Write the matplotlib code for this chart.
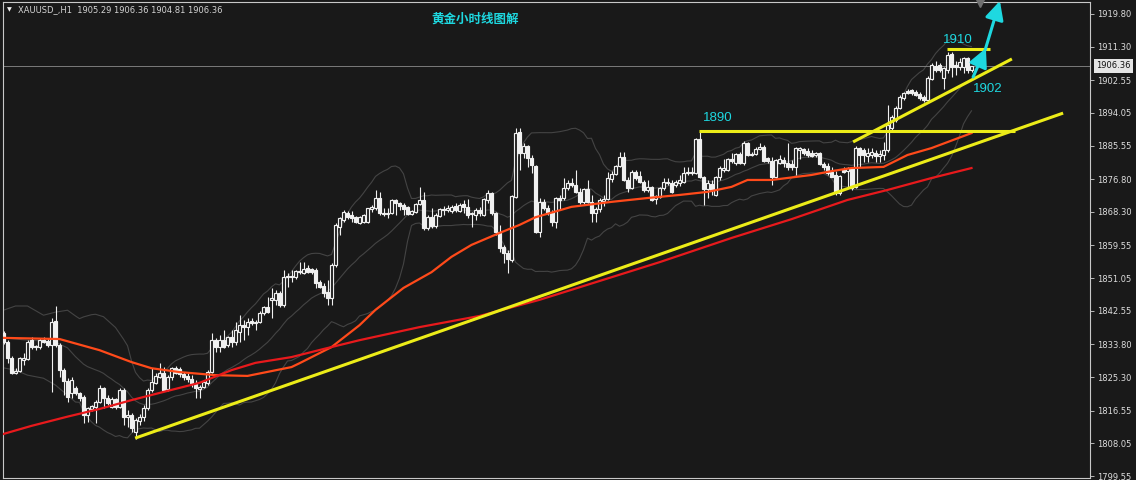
import numpy as np
import pandas as pd
import matplotlib
matplotlib.use("Agg")
import matplotlib.pyplot as plt
from matplotlib.transforms import blended_transform_factory

# ---- datos ----
HEADER = "XAUUSD_,H1  1905.29 1906.36 1904.81 1906.36"
TITLE = "黄金小时线图解"
LAST_PRICE = 1906.36
YTICKS = [1919.80, 1911.30, 1902.55, 1894.05, 1885.55, 1876.80, 1868.30, 1859.55,
          1851.05, 1842.55, 1833.80, 1825.30, 1816.55, 1808.05, 1799.55]

O = [1836.8, 1834.4, 1830.3, 1826.4, 1826.9, 1829.7, 1830.0, 1834.9, 1833.4, 1833.1,
     1834.9, 1834.7, 1833.7, 1839.9, 1833.7, 1827.1, 1824.3, 1821.1, 1822.5, 1821.1,
     1820.1, 1815.4, 1817.0, 1817.5, 1818.8, 1822.5, 1819.8, 1817.5, 1819.6, 1817.5,
     1821.9, 1814.9, 1815.4, 1811.0, 1813.9, 1814.9, 1817.2, 1821.9, 1823.7, 1825.3,
     1826.4, 1822.2, 1825.3, 1827.7, 1827.4, 1826.1, 1825.6, 1824.8, 1823.7, 1822.2,
     1822.7, 1823.7, 1826.6, 1834.9, 1833.1, 1834.9, 1833.7, 1835.7, 1834.4, 1837.0,
     1838.8, 1838.3, 1839.9, 1839.4, 1839.6, 1842.0, 1843.5, 1845.4, 1845.4, 1847.2,
     1844.1, 1851.3, 1851.6, 1851.3, 1852.6, 1852.4, 1853.7, 1853.4, 1853.2, 1850.0,
     1849.0, 1847.4, 1845.9, 1854.5, 1864.4, 1866.2, 1868.0, 1867.5, 1867.0, 1865.4,
     1865.7, 1865.7, 1869.0, 1869.3, 1871.9, 1868.0, 1867.7, 1868.0, 1871.4, 1870.6,
     1870.1, 1869.6, 1867.7, 1868.3, 1870.3, 1871.4, 1864.1, 1867.0, 1864.6, 1867.2,
     1869.0, 1868.8, 1868.5, 1869.8, 1868.5, 1870.3, 1869.6, 1867.7, 1867.5, 1868.8,
     1867.5, 1871.4, 1873.2, 1868.0, 1863.1, 1859.1, 1857.6, 1855.8, 1872.2, 1889.1,
     1883.6, 1885.4, 1882.3, 1880.2, 1863.1, 1870.9, 1869.3, 1868.0, 1865.7, 1871.9,
     1871.9, 1874.5, 1875.8, 1875.3, 1873.5, 1870.9, 1874.2, 1870.9, 1868.0, 1869.0,
     1871.1, 1871.6, 1876.9, 1878.1, 1880.2, 1882.6, 1876.6, 1874.5, 1878.7, 1877.6,
     1876.1, 1874.0, 1874.8, 1871.6, 1872.2, 1874.5, 1876.1, 1875.8, 1875.3, 1875.8,
     1876.1, 1878.4, 1878.7, 1878.4, 1887.3, 1877.4, 1874.2, 1875.5, 1872.7, 1877.4,
     1879.2, 1879.2, 1882.1, 1881.0, 1883.4, 1881.0, 1886.2, 1883.1, 1883.4, 1884.7,
     1885.2, 1882.3, 1881.5, 1877.4, 1881.0, 1881.8, 1881.0, 1880.8, 1880.0, 1884.4,
     1884.7, 1884.1, 1883.6, 1883.1, 1883.6, 1880.8, 1880.2, 1878.7, 1877.9, 1873.2,
     1879.2, 1878.9, 1879.7, 1874.8, 1884.9, 1884.4, 1882.8, 1883.1, 1883.6, 1882.8,
     1883.1, 1884.4, 1890.1, 1892.2, 1895.3, 1897.9, 1899.7, 1900.0, 1899.5, 1899.0,
     1898.2, 1897.4, 1902.9, 1906.3, 1906.5, 1903.1, 1905.2, 1909.4, 1906.5, 1906.0,
     1906.0, 1908.3, 1905.29]
H = [1837.3, 1834.9, 1830.8, 1827.7, 1830.5, 1831.6, 1834.9, 1835.7, 1833.7, 1835.5,
     1835.7, 1835.5, 1840.7, 1843.8, 1834.2, 1827.7, 1825.0, 1825.3, 1822.9, 1821.4,
     1820.6, 1817.5, 1818.0, 1819.3, 1823.2, 1822.7, 1820.6, 1820.1, 1819.8, 1822.5,
     1822.5, 1816.7, 1815.9, 1814.6, 1815.7, 1818.0, 1822.5, 1827.7, 1826.4, 1828.9,
     1827.9, 1825.8, 1827.9, 1828.2, 1827.9, 1826.6, 1826.4, 1825.8, 1824.5, 1823.2,
     1824.5, 1827.1, 1836.8, 1835.5, 1836.3, 1837.6, 1836.0, 1837.6, 1839.6, 1841.4,
     1840.2, 1840.7, 1840.7, 1840.2, 1842.5, 1843.8, 1846.1, 1848.5, 1848.0, 1847.7,
     1853.2, 1852.4, 1853.2, 1853.2, 1855.2, 1855.2, 1854.5, 1853.7, 1853.7, 1850.6,
     1849.8, 1850.6, 1855.0, 1865.4, 1866.9, 1868.8, 1868.5, 1868.5, 1867.2, 1867.2,
     1867.7, 1869.3, 1870.1, 1874.0, 1873.5, 1869.3, 1869.3, 1871.6, 1871.6, 1870.9,
     1870.6, 1869.8, 1868.8, 1870.6, 1874.8, 1873.5, 1867.5, 1869.3, 1868.0, 1869.3,
     1869.8, 1870.1, 1870.1, 1870.6, 1870.6, 1871.4, 1871.6, 1868.3, 1869.3, 1869.6,
     1871.9, 1874.0, 1873.5, 1868.3, 1864.9, 1859.7, 1858.4, 1872.7, 1890.1, 1890.1,
     1886.2, 1885.7, 1883.1, 1880.5, 1871.9, 1871.6, 1870.1, 1868.8, 1872.2, 1872.7,
     1877.1, 1876.6, 1877.1, 1879.2, 1874.5, 1874.5, 1876.6, 1872.7, 1869.6, 1871.9,
     1872.7, 1878.7, 1878.9, 1880.5, 1883.9, 1883.9, 1877.4, 1879.2, 1879.2, 1878.9,
     1876.6, 1876.6, 1875.0, 1872.7, 1874.8, 1877.1, 1877.1, 1876.6, 1876.6, 1877.9,
     1880.0, 1880.0, 1880.0, 1887.5, 1889.3, 1877.6, 1876.6, 1876.6, 1877.6, 1880.2,
     1882.1, 1882.3, 1883.6, 1883.6, 1883.9, 1886.7, 1886.5, 1883.9, 1885.2, 1886.2,
     1885.7, 1882.6, 1882.6, 1882.1, 1883.1, 1882.6, 1886.2, 1881.8, 1885.2, 1885.2,
     1884.9, 1884.9, 1884.4, 1883.9, 1883.9, 1881.3, 1881.0, 1880.0, 1878.9, 1877.9,
     1880.0, 1880.0, 1880.0, 1885.4, 1885.2, 1884.9, 1884.9, 1884.9, 1884.4, 1884.4,
     1886.5, 1896.1, 1893.5, 1895.8, 1898.7, 1899.5, 1900.3, 1900.3, 1900.0, 1899.5,
     1898.7, 1903.7, 1907.0, 1907.6, 1907.0, 1906.0, 1909.9, 1909.9, 1907.6, 1908.3,
     1908.6, 1908.6, 1906.36]
L = [1833.9, 1829.0, 1826.1, 1826.1, 1826.6, 1828.4, 1829.7, 1832.6, 1832.3, 1832.6,
     1834.2, 1833.1, 1821.4, 1833.1, 1825.3, 1820.6, 1818.8, 1819.8, 1820.6, 1819.1,
     1813.3, 1813.6, 1816.5, 1813.3, 1818.6, 1817.2, 1818.0, 1817.2, 1817.0, 1817.2,
     1812.8, 1812.3, 1811.0, 1809.2, 1812.8, 1813.9, 1816.7, 1821.4, 1823.5, 1825.0,
     1821.7, 1821.7, 1824.5, 1826.1, 1825.3, 1824.5, 1824.0, 1822.7, 1819.8, 1819.8,
     1822.5, 1823.2, 1826.4, 1831.8, 1831.8, 1832.9, 1833.1, 1833.1, 1833.7, 1834.4,
     1834.9, 1836.3, 1838.8, 1837.6, 1839.4, 1841.4, 1842.0, 1840.7, 1844.1, 1843.5,
     1843.5, 1848.7, 1850.0, 1850.8, 1852.1, 1852.1, 1852.4, 1852.1, 1848.5, 1848.5,
     1846.1, 1844.1, 1844.1, 1853.9, 1862.3, 1865.7, 1866.4, 1865.7, 1865.4, 1865.1,
     1865.4, 1865.4, 1868.3, 1868.8, 1867.5, 1867.2, 1866.7, 1867.7, 1867.5, 1868.8,
     1867.5, 1867.5, 1867.5, 1868.0, 1870.1, 1863.6, 1863.6, 1864.1, 1864.1, 1867.0,
     1867.5, 1868.3, 1868.0, 1868.3, 1868.3, 1868.0, 1866.7, 1864.4, 1866.2, 1867.2,
     1867.2, 1870.6, 1867.5, 1862.3, 1857.8, 1855.0, 1852.4, 1855.2, 1871.9, 1879.2,
     1882.3, 1880.0, 1878.4, 1862.8, 1861.8, 1868.8, 1867.5, 1864.6, 1864.1, 1868.8,
     1871.4, 1874.0, 1874.8, 1873.2, 1870.3, 1870.3, 1870.6, 1865.7, 1865.7, 1868.3,
     1869.8, 1871.4, 1876.1, 1877.9, 1880.0, 1876.3, 1873.5, 1874.2, 1876.6, 1875.8,
     1873.5, 1873.5, 1871.1, 1870.3, 1871.9, 1874.0, 1875.3, 1873.2, 1874.8, 1875.0,
     1875.8, 1877.9, 1877.9, 1878.1, 1877.1, 1870.1, 1871.9, 1872.7, 1872.4, 1876.6,
     1878.7, 1878.9, 1881.0, 1880.5, 1880.8, 1880.5, 1882.8, 1882.8, 1883.1, 1884.4,
     1881.3, 1881.0, 1875.3, 1877.1, 1880.8, 1880.0, 1879.2, 1879.2, 1877.9, 1882.1,
     1883.1, 1882.6, 1882.6, 1882.6, 1880.5, 1879.2, 1877.9, 1877.4, 1872.7, 1872.7,
     1878.4, 1874.8, 1874.0, 1874.5, 1880.0, 1881.3, 1881.3, 1882.3, 1881.3, 1881.3,
     1881.8, 1883.9, 1889.6, 1891.7, 1895.1, 1897.4, 1899.0, 1898.7, 1898.5, 1897.4,
     1896.9, 1896.9, 1902.6, 1904.7, 1904.7, 1900.3, 1904.4, 1903.4, 1903.9, 1905.2,
     1904.4, 1904.4, 1904.81]
C = [1834.4, 1830.3, 1826.4, 1826.9, 1830.3, 1830.3, 1834.4, 1833.1, 1833.1, 1834.9,
     1834.4, 1833.7, 1839.6, 1833.7, 1827.1, 1824.3, 1820.1, 1824.5, 1821.1, 1819.8,
     1815.4, 1817.2, 1817.8, 1818.8, 1822.5, 1819.8, 1818.6, 1819.6, 1817.5, 1821.9,
     1814.9, 1815.4, 1812.0, 1814.1, 1814.9, 1817.2, 1821.9, 1824.0, 1825.6, 1826.4,
     1821.9, 1825.3, 1827.7, 1826.4, 1826.1, 1825.3, 1824.8, 1823.7, 1822.5, 1822.7,
     1824.0, 1826.6, 1834.9, 1833.1, 1834.9, 1833.1, 1835.7, 1834.4, 1837.6, 1838.8,
     1838.3, 1839.6, 1839.4, 1839.6, 1842.0, 1843.5, 1842.2, 1845.9, 1847.2, 1844.1,
     1851.3, 1851.6, 1851.3, 1852.9, 1852.9, 1853.4, 1852.6, 1852.6, 1849.8, 1848.7,
     1847.2, 1845.9, 1854.5, 1864.9, 1866.7, 1868.3, 1867.0, 1866.7, 1865.7, 1867.0,
     1867.5, 1869.3, 1869.6, 1871.9, 1868.0, 1867.7, 1868.0, 1871.4, 1870.6, 1869.8,
     1869.0, 1867.7, 1868.5, 1870.3, 1871.4, 1864.1, 1867.0, 1864.6, 1867.5, 1869.0,
     1868.8, 1869.3, 1869.6, 1868.8, 1870.1, 1869.6, 1867.5, 1868.0, 1868.8, 1868.0,
     1871.6, 1873.2, 1868.0, 1863.1, 1858.9, 1857.6, 1856.0, 1872.4, 1888.8, 1883.6,
     1885.4, 1882.3, 1880.5, 1863.1, 1870.9, 1869.3, 1868.0, 1865.7, 1871.9, 1871.4,
     1874.5, 1875.8, 1875.3, 1873.5, 1870.9, 1874.2, 1870.9, 1868.0, 1869.0, 1871.4,
     1871.6, 1877.1, 1878.1, 1880.2, 1882.6, 1876.6, 1874.5, 1878.7, 1877.1, 1876.1,
     1874.0, 1874.8, 1871.4, 1872.4, 1874.5, 1876.1, 1875.8, 1873.5, 1876.1, 1876.6,
     1878.4, 1878.7, 1878.4, 1887.3, 1877.4, 1874.2, 1875.8, 1874.0, 1877.4, 1879.7,
     1879.7, 1882.1, 1881.5, 1883.4, 1881.0, 1886.2, 1883.1, 1883.4, 1884.7, 1885.2,
     1881.5, 1881.5, 1877.4, 1881.8, 1882.1, 1881.0, 1880.0, 1880.0, 1884.9, 1884.9,
     1883.6, 1883.1, 1882.8, 1883.6, 1880.8, 1880.0, 1878.4, 1877.4, 1873.2, 1877.6,
     1878.7, 1879.7, 1874.5, 1884.9, 1883.1, 1883.1, 1883.6, 1883.9, 1882.8, 1883.4,
     1884.4, 1890.9, 1893.0, 1895.3, 1898.2, 1899.2, 1899.2, 1899.2, 1898.7, 1897.9,
     1897.4, 1903.1, 1906.5, 1905.2, 1905.2, 1905.7, 1909.1, 1906.0, 1906.0, 1907.3,
     1908.3, 1905.2, 1906.36]

# bandas de bollinger en las primeras barras (sin historial), leidas a ojo
BB_HEAD_X = [0, 3, 6, 10, 13, 16, 18]
BB_HEAD_UP = [1842.7, 1843.8, 1843.8, 1841.4, 1842.2, 1842.7, 1841.2]
BB_HEAD_MID = [1835.5, 1835.2, 1834.9, 1834.7, 1834.4, 1832.9, 1830.6]
BB_HEAD_LOW = [1827.7, 1827.1, 1825.8, 1825.0, 1823.2, 1820.6, 1818.8]

MA_ORANGE_X = [0, 14, 24, 32, 37, 44, 53, 61, 72, 74, 82, 89, 93, 100, 107, 112, 117,
               124, 129, 133, 142, 152, 161, 169, 176, 182, 186, 192, 202, 207, 212,
               220, 226, 232, 242]
MA_ORANGE_Y = [1835.5, 1835.2, 1832.3, 1829.2, 1827.6, 1826.6, 1825.8, 1825.6, 1827.9,
               1828.9, 1833.1, 1838.8, 1842.8, 1848.5, 1852.6, 1856.6, 1859.7, 1862.8,
               1864.9, 1866.9, 1869.6, 1870.9, 1871.9, 1872.7, 1873.5, 1874.8, 1876.6,
               1876.6, 1877.9, 1878.9, 1879.7, 1880.0, 1883.1, 1884.9, 1888.8]
MA_RED_X = [0, 7, 16, 24, 32, 41, 49, 57, 63, 72, 80, 89, 104, 119, 134, 149, 164, 182,
            197, 211, 221, 232, 242]
MA_RED_Y = [1810.5, 1812.6, 1815.0, 1817.0, 1819.3, 1821.7, 1823.8, 1827.1, 1829.0,
            1830.5, 1832.6, 1834.9, 1838.3, 1841.2, 1845.4, 1850.3, 1855.2, 1861.5,
            1866.4, 1871.4, 1874.0, 1877.1, 1879.7]

# objetos dibujados a mano (barra, precio)
TREND_X, TREND_Y = [32.9, 264.9], [1809.4, 1894.0]
CHANNEL_X, CHANNEL_Y = [212.4, 252.1], [1886.5, 1908.1]
LEVEL_1890_X, LEVEL_1890 = [173.9, 252.9], 1889.35
LEVEL_1910_X, LEVEL_1910 = [235.9, 246.6], 1910.7
ARROWS = [((242.4, 1903.4), (245.6, 1910.9)), ((245.4, 1910.4), (249.1, 1923.2))]
LABELS = [("1890", 174.9, 1892.7), ("1910", 234.9, 1913.0), ("1902", 242.4, 1900.3)]

BG = "#191919"; FG = "#f0f0f0"; CYAN = "#1ed8e0"; YEL = "#ecec18"
plt.rcParams["font.family"] = ["DejaVu Sans"]

fig = plt.figure(figsize=(11.36, 4.8), dpi=100, facecolor=BG)
ax = fig.add_axes([3/1136, 2/480, 1087/1136, 476/480], facecolor=BG)
ax.set_xlim(-0.125, 271.625); ax.set_ylim(1799.03, 1922.92)

o, h, l, c = map(np.array, (O, H, L, C)); x = np.arange(len(c))

# bandas de bollinger (20, 2) sobre los cierres
cs = pd.Series(c)
mid = cs.rolling(20).mean(); sd = cs.rolling(20).std(ddof=0)
for head, s in ((BB_HEAD_UP, mid + 2*sd), (BB_HEAD_MID, mid), (BB_HEAD_LOW, mid - 2*sd)):
    bx = BB_HEAD_X + list(x[19:]); by = head + list(s[19:])
    ax.plot(bx, by, color="#444444", lw=0.8, zorder=1)

ax.vlines(x, l, h, color=FG, lw=0.8, zorder=3)
up = c >= o
ax.bar(x[up], c[up]-o[up], bottom=o[up], width=0.52, color=BG, edgecolor=FG, lw=0.85, zorder=4)
ax.bar(x[~up], o[~up]-c[~up], bottom=c[~up], width=0.52, color=FG, edgecolor=FG, lw=0.85, zorder=4)

ax.plot(MA_ORANGE_X, MA_ORANGE_Y, color="#ff4a1a", lw=1.6, zorder=5)
ax.plot(MA_RED_X, MA_RED_Y, color="#e8191c", lw=1.6, zorder=5)

ax.axhline(LAST_PRICE, color="#8a8a8a", lw=0.6, zorder=2)

for lx, ly in ((TREND_X, TREND_Y), (CHANNEL_X, CHANNEL_Y),
               (LEVEL_1890_X, [LEVEL_1890]*2), (LEVEL_1910_X, [LEVEL_1910]*2)):
    ax.plot(lx, ly, color=YEL, lw=2.2, zorder=6, solid_capstyle="butt")
for a, b in ARROWS:
    ax.annotate("", xy=b, xytext=a, zorder=7, annotation_clip=False,
                arrowprops=dict(arrowstyle="-|>,head_length=0.8,head_width=0.4", color=CYAN,
                                lw=2.2, shrinkA=0, shrinkB=0, mutation_scale=14))
for t, lx, ly in LABELS:
    ax.text(lx, ly, t, color=CYAN, fontsize=9.5, family=["Liberation Sans", "DejaVu Sans"],
            ha="left", va="center", zorder=7)

ax.plot(244.1, 1922.6, marker="v", color="#707070", ms=6, zorder=7, clip_on=False)

# ejes
ax.set_xticks([])
ax.yaxis.tick_right()
ax.set_yticks(YTICKS)
ax.set_yticklabels([f"{v:.2f}" for v in YTICKS])
ax.tick_params(axis="y", length=3, width=0.6, color="#d0d0d0", labelcolor="#dcdcdc",
               labelsize=6, pad=2)
for sp in ax.spines.values():
    sp.set_color("#c8c8c8"); sp.set_linewidth(0.8)
tr = blended_transform_factory(ax.transAxes, ax.transData)
ax.text((1096-3)/1087, LAST_PRICE, f"{LAST_PRICE:.2f}", transform=tr, fontsize=6, color="#101010",
        ha="left", va="center", bbox=dict(boxstyle="square,pad=0.3", fc="#e4e4e4", ec="none"),
        clip_on=False, zorder=8)

fig.text(9/1136, 1-10/480, "▼", color=FG, fontsize=4.5, ha="center", va="center")
fig.text(18/1136, 1-10/480, HEADER, color="#d4d4d4", fontsize=6, ha="left", va="center")
fig.text(475/1136, 1-19/480, TITLE, color=CYAN, fontsize=9, fontweight="bold",
         family=["Noto Sans CJK SC", "DejaVu Sans"], ha="center", va="center")

fig.savefig("out.png", dpi=100, facecolor=BG)
